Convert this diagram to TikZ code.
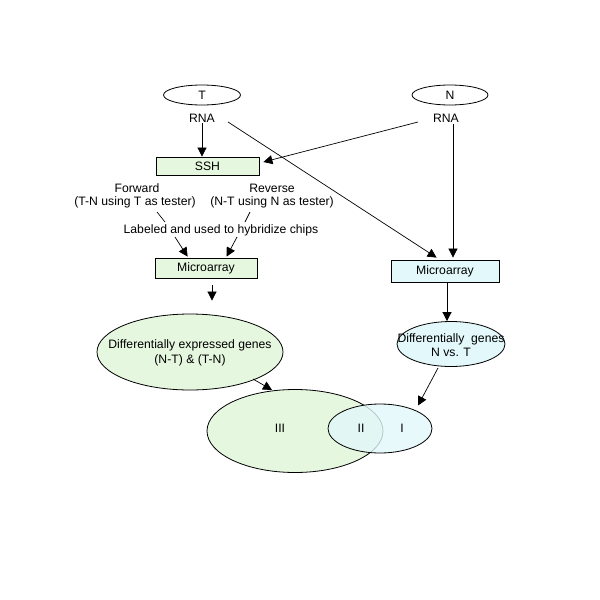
\documentclass[tikz,border=0pt]{standalone}
\usepackage{fontspec}
\setmainfont{Liberation Sans}
\usetikzlibrary{arrows.meta,calc,shapes.geometric}
\definecolor{gfill}{RGB}{230,247,224}
\definecolor{bfill}{RGB}{226,248,250}
\tikzset{
  oval/.style={ellipse,draw,inner sep=0pt,line width=0.8pt},
  boxnode/.style={rectangle,draw,inner sep=0pt,line width=0.8pt},
  txt/.style={inner sep=1pt},
  arr/.style={-{Triangle[length=9pt,width=9pt]},line width=0.7pt},
  ln/.style={line width=0.7pt}
}
\begin{document}
\begin{tikzpicture}[x=1pt,y=-1pt,font=\fontsize{12.2}{14.5}\selectfont]
\useasboundingbox (0,0) rectangle (600,600);
% top
\node[oval,minimum width=77pt,minimum height=20pt] (T) at (202,95) {T};
\node[txt] (rnaT) at (202,118) {RNA};
\node[oval,minimum width=76pt,minimum height=20pt] (N) at (450,95) {N};
\node[txt] (rnaN) at (446,118) {RNA};
\node[boxnode,fill=gfill,minimum width=103pt,minimum height=18pt] (ssh) at (207.5,166) {SSH};
\node[txt] (fwd) at (137,188) {Forward};
\node[txt] (fwd2) at (135,202) {(T-N using T as tester)};
\node[txt] (rev) at (272,188) {Reverse};
\node[txt] (rev2) at (272,202) {(N-T using N as tester)};
\node[txt] (lab) at (221,230) {Labeled and used to hybridize chips};
\node[boxnode,fill=gfill,minimum width=102pt,minimum height=20pt] (ma1) at (206,268) {Microarray};
\node[boxnode,fill=bfill,minimum width=108pt,minimum height=22pt] (ma2) at (445,271) {Microarray};
\node[oval,fill=gfill,minimum width=186pt,minimum height=76pt] (deg) at (190,352) {};
\node[txt,align=center] (degt) at (190,353) {Differentially expressed genes\\(N-T) \& (T-N)};
\node[oval,fill=bfill,minimum width=108pt,minimum height=45pt] (dg) at (451,344) {};
\node[txt,align=center] (dgt) at (451,345) {Differentially\ \ genes\\N vs. T};
% venn
\node[oval,fill=gfill,minimum width=176pt,minimum height=83pt] (III) at (295,431) {};
\node[ellipse,fill=bfill,fill opacity=0.8,inner sep=0pt,minimum width=104pt,minimum height=49pt] (Ifill) at (380,428.5) {};
\node[ellipse,draw,inner sep=0pt,line width=0.8pt,minimum width=104pt,minimum height=49pt] (I) at (380,428.5) {};
\node[txt] (lIII) at (280,428) {III};
\node[txt] (lII) at (361,428) {II};
\node[txt] (lI) at (402,428) {I};
% connectors
\draw[arr] (rnaT.south) -- (rnaT.south |- ssh.north);
\draw[arr] ($(rnaN.center)+(-28,4)$) -- ($(ssh.east)+(4,-4)$);
\draw[arr] ($(rnaT.center)+(26,4)$) -- ($(ma2.north west)+(46,-2)$);
\draw[arr] ($(rnaN.south)+(7,1)$) -- ($(ma2.north)+(8,-2)$);
\draw[ln] ($(lab.center)+(-64,-18)$) -- ($(lab.center)+(-56,-8)$);
\draw[ln] ($(lab.center)+(29,-18)$) -- ($(lab.center)+(24,-8)$);
\draw[arr] ($(lab.center)+(-46,7)$) -- ($(ma1.north west)+(33,-1)$);
\draw[arr] ($(lab.center)+(16,7)$) -- ($(ma1.north west)+(72,-1)$);
\draw[arr] ($(ma1.south)+(6,7)$) -- ($(deg.north)+(22,-13)$);
\draw[arr] ($(ma2.south)+(2,1)$) -- ($(dg.north)+(-4,0)$);
\draw[arr] ($(deg.center)+(63,27)$) -- ($(III.center)+(-23,-41)$);
\draw[arr] ($(dg.center)+(-13,24)$) -- ($(I.center)+(38,-23)$);
\end{tikzpicture}
\end{document}
